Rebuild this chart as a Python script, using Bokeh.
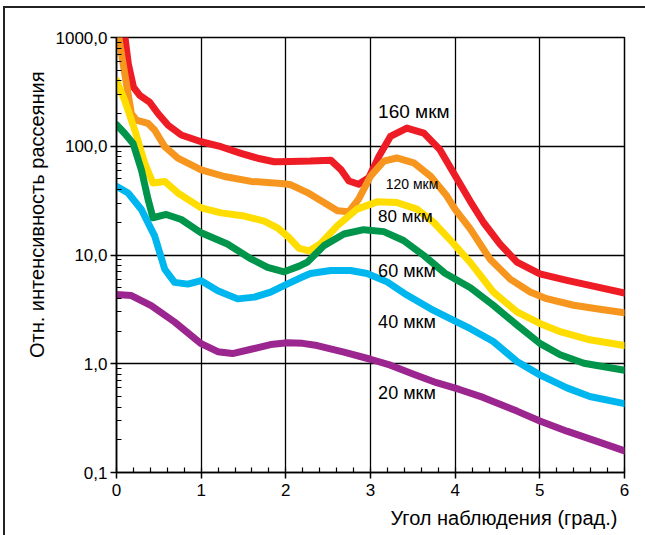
from bokeh.plotting import figure
from bokeh.layouts import column
from bokeh.models import Range1d, FixedTicker, SingleIntervalTicker, Label, Title
from bokeh.embed import file_html
from bokeh.resources import INLINE

# ---- data ----
x_160 = [0.10, 0.14, 0.20, 0.275, 0.39, 0.49, 0.61, 0.765, 1.0, 1.235, 1.47, 1.667, 1.863, 2.06, 2.29, 2.53, 2.65, 2.745, 2.86, 2.98, 3.10, 3.235, 3.43, 3.63, 3.82, 3.98, 4.18, 4.335, 4.53, 4.73, 5.0, 5.32, 5.59, 6.0]
y_160 = [1000, 571, 350, 294, 255, 200, 156, 127, 110, 99, 86, 77.6, 72, 72.5, 73, 74.5, 61, 47.9, 44.7, 51.4, 81, 123, 147, 132, 93, 57, 31, 19.9, 12.6, 8.6, 6.7, 5.84, 5.25, 4.47]

x_120 = [0.027, 0.098, 0.176, 0.235, 0.373, 0.45, 0.57, 0.725, 1.0, 1.275, 1.59, 1.98, 2.06, 2.255, 2.45, 2.61, 2.745, 2.86, 3.0, 3.157, 3.31, 3.51, 3.71, 3.90, 4.0, 4.18, 4.41, 4.65, 4.886, 5.08, 5.40, 5.71, 6.0]
y_120 = [1000, 462, 200, 174, 162, 141, 99, 77.6, 60.7, 52.7, 47.5, 45.2, 44.2, 37.5, 30.4, 25.5, 25, 32.6, 53, 73, 78, 70.5, 53, 35, 26.3, 17.3, 9.2, 6.0, 4.57, 3.97, 3.45, 3.17, 2.94]

x_80 = [0.0, 0.098, 0.216, 0.333, 0.43, 0.57, 0.725, 1.0, 1.235, 1.51, 1.745, 1.90, 2.04, 2.157, 2.275, 2.41, 2.61, 2.84, 3.08, 3.31, 3.55, 3.745, 3.94, 4.18, 4.45, 4.73, 5.0, 5.24, 5.59, 6.0]
y_80 = [403, 263, 141, 70, 46, 47.5, 37.2, 27.1, 24.4, 22.8, 20.5, 17.8, 14.4, 11.5, 10.9, 12.7, 18.6, 26.4, 30.8, 30.4, 26.4, 20, 13.8, 8.5, 4.57, 3.0, 2.35, 1.97, 1.66, 1.47]

x_60 = [0.0, 0.098, 0.196, 0.294, 0.373, 0.43, 0.588, 0.765, 1.0, 1.31, 1.59, 1.784, 1.98, 2.157, 2.255, 2.45, 2.686, 2.92, 3.157, 3.39, 3.63, 3.88, 4.18, 4.45, 4.73, 5.0, 5.24, 5.52, 6.0]
y_60 = [158, 131, 106, 60.7, 32.4, 22, 23.6, 21.2, 16.0, 12.6, 9.2, 7.7, 7.0, 7.9, 8.6, 12.2, 15.6, 17.1, 16.4, 13.6, 9.9, 6.8, 5.0, 3.45, 2.27, 1.54, 1.21, 1.01, 0.87]

x_40 = [0.0, 0.137, 0.294, 0.45, 0.57, 0.686, 0.843, 1.0, 1.196, 1.43, 1.63, 1.82, 2.02, 2.18, 2.29, 2.53, 2.765, 2.96, 3.196, 3.43, 3.71, 3.94, 4.18, 4.45, 4.73, 5.0, 5.32, 5.59, 6.0]
y_40 = [42.8, 37.2, 26.2, 15, 7.4, 5.6, 5.4, 5.8, 4.7, 3.95, 4.1, 4.55, 5.42, 6.2, 6.75, 7.2, 7.2, 6.75, 5.66, 4.28, 3.2, 2.6, 2.1, 1.6, 1.05, 0.79, 0.6, 0.5, 0.43]

x_20 = [0.0, 0.176, 0.41, 0.686, 1.0, 1.196, 1.37, 1.59, 1.82, 2.02, 2.2, 2.37, 2.686, 3.0, 3.235, 3.51, 3.78, 4.05, 4.33, 4.73, 5.0, 5.32, 5.71, 6.0]
y_20 = [4.34, 4.24, 3.43, 2.42, 1.53, 1.29, 1.24, 1.36, 1.50, 1.56, 1.54, 1.47, 1.28, 1.1, 0.97, 0.80, 0.67, 0.58, 0.49, 0.367, 0.298, 0.24, 0.189, 0.158]

series_names = ["160 мкм", "120 мкм", "80 мкм", "60 мкм", "40 мкм", "20 мкм"]
series_x = [x_160, x_120, x_80, x_60, x_40, x_20]
series_y = [y_160, y_120, y_80, y_60, y_40, y_20]
colors = ["#EE1D25", "#F7961E", "#FFDD00", "#00954A", "#00B6EF", "#9C2690"]

label_x = [3.09, 3.18, 3.09, 3.09, 3.09, 3.09]
label_y = [208, 45, 22.5, 7.06, 2.41, 0.54]
label_size = ["19px", "14px", "17px", "18px", "18px", "18px"]

y_ticks = [0.1, 1, 10, 100, 1000]
y_tick_labels = ["0,1", "1,0", "10,0", "100,0", "1000,0"]

x_title = "Угол наблюдения (град.)"
y_title = "Отн. интенсивность рассеяния"

FONT = "Liberation Sans"

p = figure(width=640, height=527, y_axis_type="log",
           x_range=Range1d(0, 6), y_range=Range1d(0.1, 1000),
           output_backend="svg", toolbar_location=None,
           min_border_left=111, min_border_right=21,
           min_border_top=29, min_border_bottom=61)
p.background_fill_color = "white"
p.border_fill_color = "white"
p.outline_line_color = "black"
p.outline_line_width = 1.5

# axes
minor = [m * 10 ** e for e in range(-1, 3) for m in range(2, 10)]
p.yaxis.ticker = FixedTicker(ticks=y_ticks, minor_ticks=minor)
p.yaxis.major_label_overrides = {t: s for t, s in zip(y_ticks, y_tick_labels)}
p.xaxis.ticker = SingleIntervalTicker(interval=1, num_minor_ticks=5)
for ax in (p.xaxis, p.yaxis):
    ax.axis_line_color = "black"
    ax.axis_line_width = 1.5
    ax.major_tick_line_color = "black"
    ax.major_tick_line_width = 1.5
    ax.minor_tick_line_color = "black"
    ax.minor_tick_line_width = 1.2
    ax.major_tick_out = 6
    ax.major_tick_in = 0
    ax.minor_tick_in = 5
    ax.minor_tick_out = 0
    ax.major_label_text_font = FONT
    ax.major_label_text_font_size = "17px"
    ax.major_label_text_color = "black"
p.yaxis.major_label_standoff = 3
p.xaxis.major_label_standoff = 5

p.xgrid.ticker = p.xaxis.ticker
for g in (p.xgrid, p.ygrid):
    g.grid_line_color = "black"
    g.grid_line_width = 1.3
    g.grid_line_alpha = 1.0

# curves
for xs, ys, c in zip(series_x, series_y, colors):
    p.line(xs, ys, line_color=c, line_width=7, line_join="round", line_cap="round")

# curve labels
for name, lx, ly, fs in zip(series_names, label_x, label_y, label_size):
    p.add_layout(Label(x=lx, y=ly, text=name, text_font=FONT, text_font_size=fs,
                       text_color="black", text_baseline="middle", text_align="left"))

# axis titles
p.add_layout(Title(text=x_title, align="right", offset=7, standoff=13, text_font=FONT,
                   text_font_size="20px", text_font_style="normal",
                   text_color="black"), "below")
p.add_layout(Title(text=y_title, align="right", offset=34, text_font=FONT,
                   text_font_size="20px", text_font_style="normal",
                   text_color="black"), "left")

layout = column(p, styles={"margin-left": "3px", "margin-top": "6px",
                           "border-left": "2px solid #222222",
                           "border-top": "2px solid #222222"})

open("out.html", "w").write(file_html(layout, INLINE))
